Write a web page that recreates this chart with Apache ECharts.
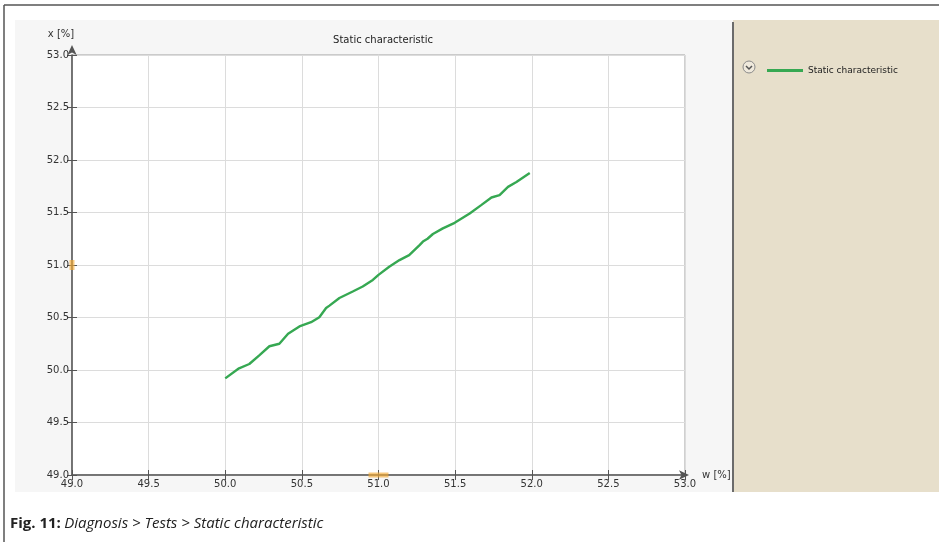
<!DOCTYPE html>
<html><head><meta charset="utf-8">
<script src="https://cdn.jsdelivr.net/npm/echarts@6/dist/echarts.min.js"></script>
<style>html,body{margin:0;padding:0;background:#fff}#c{width:939px;height:542px}</style>
</head><body><div id="c"></div>
<script>
const seriesName = 'Static characteristic';
const wValues = [50.0, 50.09, 50.157, 50.222, 50.288, 50.353, 50.41, 50.484, 50.56, 50.614, 50.658, 50.68, 50.745, 50.832, 50.897, 50.963, 51.0, 51.07, 51.137, 51.2, 51.268, 51.29, 51.32, 51.355, 51.42, 51.497, 51.595, 51.67, 51.737, 51.79, 51.845, 51.9, 51.987];
const xValues = [49.92, 50.016, 50.057, 50.14, 50.226, 50.25, 50.346, 50.415, 50.455, 50.503, 50.59, 50.613, 50.686, 50.748, 50.795, 50.858, 50.906, 50.984, 51.047, 51.094, 51.19, 51.223, 51.25, 51.295, 51.349, 51.402, 51.49, 51.57, 51.643, 51.665, 51.744, 51.79, 51.877];
const cursorW = [49.0, 51.0];
const cursorX = [51.0, 49.0];
const axisMin = 49.0, axisMax = 53.0, axisStep = 0.5;

const chart = echarts.init(document.getElementById('c'));
const font = 'DejaVu Sans';
const tickAxis = (type, pos) => ({type:'value', min:axisMin, max:axisMax, interval:axisStep, position:pos,
  axisLine:{show:false}, axisLabel:{show:false}, splitLine:{show:false},
  axisTick:{show:true, inside:true, length:5, lineStyle:{color:'#555'}}});
chart.setOption({
  backgroundColor: '#ffffff',
  animation: false,
  graphic: [
    {type:'rect', shape:{x:15,y:20,width:718,height:472}, style:{fill:'#f6f6f6'}, z:-10},
    {type:'rect', shape:{x:733,y:20,width:206,height:472}, style:{fill:'#e7dfcb'}, z:-10},
    {type:'line', shape:{x1:733,y1:22,x2:733,y2:492}, style:{stroke:'#6b6b6b', lineWidth:2}, z:-9},
    {type:'line', shape:{x1:4,y1:5,x2:939,y2:5}, style:{stroke:'#555', lineWidth:1.5}, z:-9},
    {type:'line', shape:{x1:4,y1:5,x2:4,y2:542}, style:{stroke:'#555', lineWidth:1.5}, z:-9},
    {type:'circle', shape:{cx:749,cy:67,r:6}, style:{fill:'#efe9dc', stroke:'#8a8a8a', lineWidth:1}},
    {type:'polyline', shape:{points:[[746,66],[749,69],[752,66]]}, style:{stroke:'#555', lineWidth:1.5, fill:null}},
    {type:'text', left:10, top:516, style:{
      rich:{b:{fontFamily:'Open Sans', fontWeight:'bold', fontSize:15, fill:'#222'},
            i:{fontFamily:'Open Sans', fontStyle:'italic', fontSize:15, fill:'#222'}},
      text:'{b|Fig. 11:} {i|Diagnosis > Tests > Static characteristic}'}}
  ],
  title: {text: 'Static characteristic', left: 378, top: 30, textAlign:'center',
    textStyle:{fontFamily:font, fontSize:10, fontWeight:'normal', color:'#222'}},
  legend: {data:[seriesName], left:762, top:61, itemWidth:36, itemHeight:3, icon:'rect', itemGap:5,
    textStyle:{fontFamily:font, fontSize:9, color:'#222'}},
  grid: {left:72, top:55, right:254, bottom:67, show:true, backgroundColor:'#ffffff', borderColor:'#a0a0a0', borderWidth:1},
  xAxis: [{type:'value', min:axisMin, max:axisMax, interval:axisStep, position:'bottom',
    name:'w [%]', nameLocation:'end', nameGap:9,
    nameTextStyle:{fontFamily:font, fontSize:10, color:'#333', verticalAlign:'middle'},
    axisLine:{show:true, lineStyle:{color:'#555', width:1.5}, symbol:['none','arrow'], symbolSize:[7,10], symbolOffset:[0,4]},
    axisTick:{show:true, length:5, lineStyle:{color:'#555'}},
    axisLabel:{fontFamily:font, fontSize:10, color:'#333', margin:4, formatter:v=>v.toFixed(1)},
    splitLine:{show:true, lineStyle:{color:'#dcdcdc'}}}, tickAxis('value','bottom')],
  yAxis: [{type:'value', min:axisMin, max:axisMax, interval:axisStep, position:'left',
    name:'x [%]', nameLocation:'end', nameGap:16,
    nameTextStyle:{fontFamily:font, fontSize:10, color:'#333', align:'center', padding:[0,22,0,0]},
    axisLine:{show:true, lineStyle:{color:'#555', width:1.5}, symbol:['none','arrow'], symbolSize:[7,10], symbolOffset:[0,10]},
    axisTick:{show:true, length:5, lineStyle:{color:'#555'}},
    axisLabel:{fontFamily:font, fontSize:10, color:'#333', margin:3, formatter:v=>v.toFixed(1)},
    splitLine:{show:true, lineStyle:{color:'#dcdcdc'}}}, tickAxis('value','left')],
  series: [
    {name:seriesName, type:'line', showSymbol:false, smooth:false, color:'#36a852',
      lineStyle:{width:2.4, color:'#36a852'},
      data: wValues.map((w,i)=>[w, xValues[i]]), z:5},
    {name:'cursor', type:'scatter', symbol:'rect', silent:true, z:6,
      data: cursorW.map((w,i)=>({value:[w, cursorX[i]], symbolSize: i===0 ? [5,10] : [20,5]})),
      itemStyle:{color:'rgba(245,170,50,0.8)'}}
  ]
});
</script></body></html>
